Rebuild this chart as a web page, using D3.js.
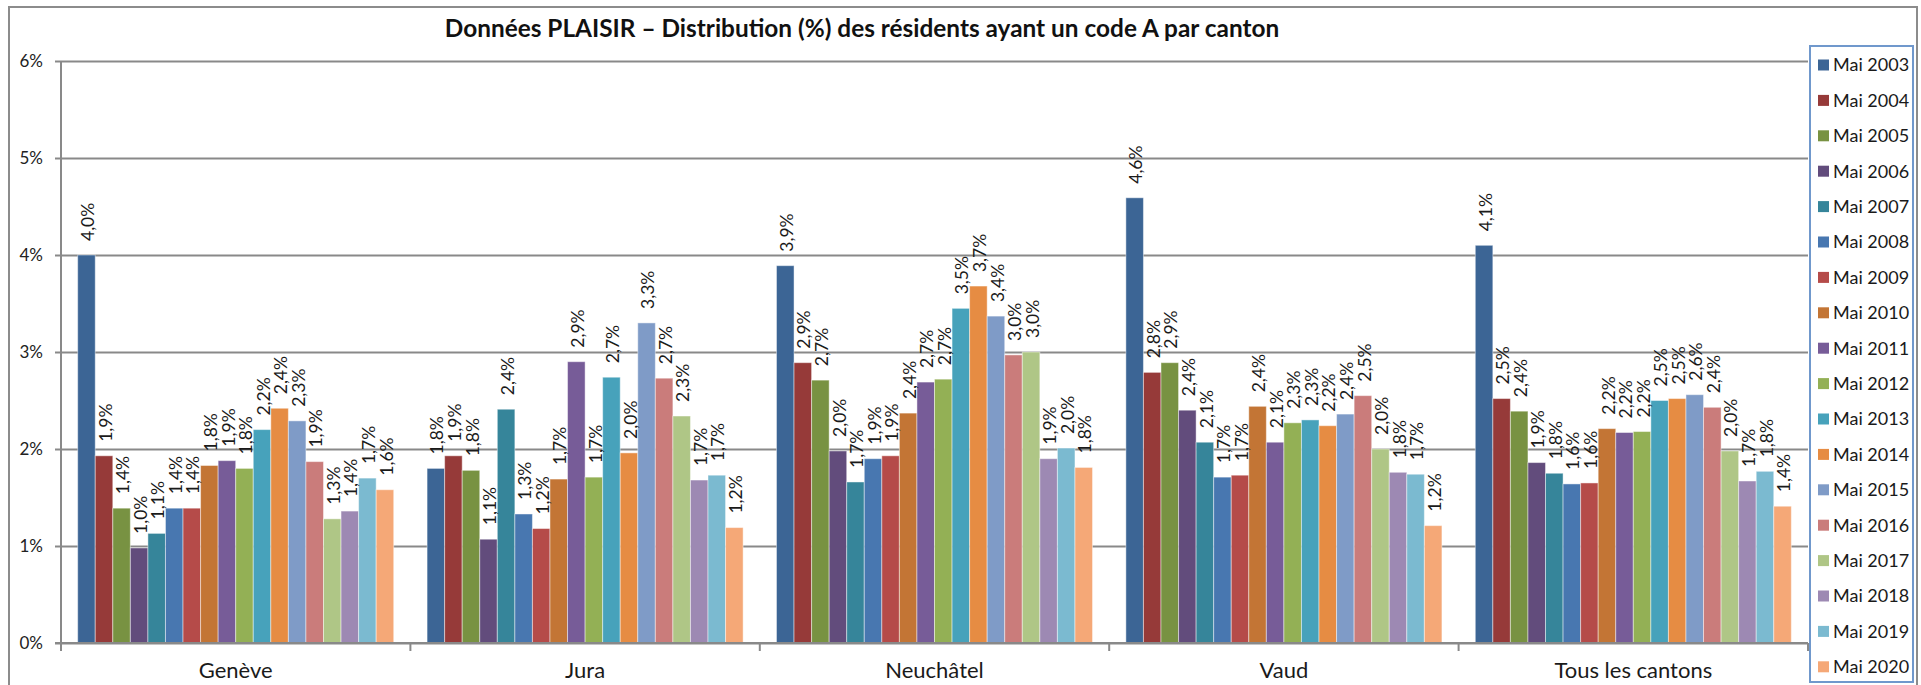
<!DOCTYPE html>
<html>
<head>
<meta charset="utf-8">
<script src="https://cdn.jsdelivr.net/npm/d3@7"></script>
<style>
  body { margin: 0; background: #fff; }
  svg { display: block; font-family: Lato, "Liberation Sans", sans-serif; }
</style>
</head>
<body>
<div id="chart"></div>
<script>
// categories (x) and series (one bar per year)
const cantons = ["Genève", "Jura", "Neuchâtel", "Vaud", "Tous les cantons"];
const years = ["Mai 2003", "Mai 2004", "Mai 2005", "Mai 2006", "Mai 2007", "Mai 2008",
  "Mai 2009", "Mai 2010", "Mai 2011", "Mai 2012", "Mai 2013", "Mai 2014",
  "Mai 2015", "Mai 2016", "Mai 2017", "Mai 2018", "Mai 2019", "Mai 2020"];

// values in %, one array per canton, in the order of years
const geneve    = [4.00, 1.93, 1.39, 0.98, 1.13, 1.39, 1.39, 1.83, 1.88, 1.80, 2.20, 2.42, 2.29, 1.87, 1.28, 1.36, 1.70, 1.58];
const jura      = [1.80, 1.93, 1.78, 1.07, 2.41, 1.33, 1.18, 1.69, 2.90, 1.71, 2.74, 1.96, 3.30, 2.73, 2.34, 1.68, 1.73, 1.19];
const neuchatel = [3.89, 2.89, 2.71, 1.98, 1.66, 1.90, 1.93, 2.37, 2.69, 2.72, 3.45, 3.68, 3.37, 2.97, 3.00, 1.90, 2.01, 1.81];
const vaud      = [4.59, 2.79, 2.89, 2.40, 2.07, 1.71, 1.73, 2.44, 2.07, 2.27, 2.30, 2.24, 2.36, 2.55, 2.00, 1.76, 1.74, 1.21];
const tous      = [4.10, 2.52, 2.39, 1.86, 1.75, 1.64, 1.65, 2.21, 2.17, 2.18, 2.50, 2.52, 2.56, 2.43, 1.98, 1.67, 1.77, 1.41];

const yTicks = [0, 1, 2, 3, 4, 5, 6];

const colors = ["#3c6595", "#963a39", "#789242", "#624c7c", "#36859a", "#4877b0",
  "#b54b49", "#c37535", "#775c98", "#93b055", "#47a2bb", "#e68c43",
  "#7f9bc7", "#ca7c7b", "#afc686", "#9d89b3", "#7bbad0", "#f5a877"];

const title = "Données PLAISIR – Distribution (%) des résidents ayant un code A par canton";

// build rows from the arrays above
const values = [geneve, jura, neuchatel, vaud, tous];
const rows = cantons.map((c, i) => ({
  canton: c,
  bars: years.map((y, j) => ({ year: y, value: values[i][j] }))
}));

let w = 1921;
let h = 685;
const plot = { left: 61, right: 1808, top: 61, bottom: 643 };
const gridColor = "#898989";

var svg = d3.select("#chart").append("svg").attr("width", w).attr("height", h);

// outer chart border
svg.append("rect")
  .attr("x", 9).attr("y", 7)
  .attr("width", 1908).attr("height", 700)
  .attr("fill", "none")
  .attr("stroke", "#8c8c8c")
  .attr("stroke-width", 2);

// scales
const x0 = d3.scaleBand().domain(cantons).range([plot.left, plot.right]);
const x1 = d3.scaleBand().domain(years).range([0, x0.bandwidth()])
  .paddingInner(0).paddingOuter(0.95);
const color = d3.scaleOrdinal().domain(years).range(colors);
const y = d3.scaleLinear().domain([0, 6]).range([plot.bottom, plot.top]);

// gridlines
svg.append("g")
  .attr("transform", "translate(" + plot.left + ",0)")
  .call(d3.axisLeft(y).tickValues(yTicks).tickSize(-(plot.right - plot.left)).tickFormat(""))
  .call(g => g.select(".domain").remove())
  .call(g => g.selectAll("line").attr("stroke", gridColor).attr("stroke-width", 2));

// y axis with labels
svg.append("g")
  .attr("transform", "translate(" + plot.left + ",0)")
  .call(d3.axisLeft(y).tickValues(yTicks).tickSize(6).tickPadding(12)
    .tickFormat(d => d + "%"))
  .call(g => g.select(".domain").attr("stroke", gridColor).attr("stroke-width", 2)
    .attr("d", "M0," + plot.top + "V" + plot.bottom))
  .call(g => g.selectAll("line").attr("stroke", gridColor).attr("stroke-width", 2))
  .call(g => g.selectAll("text").attr("font-size", 17).attr("fill", "#222")
    .attr("font-family", "Lato, sans-serif"));

// bars
const groups = svg.selectAll("g.canton")
  .data(rows)
  .enter()
  .append("g")
  .attr("class", "canton")
  .attr("transform", d => "translate(" + x0(d.canton) + ",0)");

groups.selectAll("rect")
  .data(d => d.bars)
  .enter()
  .append("rect")
  .attr("x", d => x1(d.year))
  .attr("y", d => y(d.value))
  .attr("width", x1.bandwidth())
  .attr("height", d => y(0) - y(d.value))
  .attr("fill", d => color(d.year))
  .attr("stroke", "rgba(255,255,255,0.45)")
  .attr("stroke-width", 1);

// rotated value labels
groups.selectAll("text.lbl")
  .data(d => d.bars)
  .enter()
  .append("text")
  .attr("class", "lbl")
  .attr("transform", d => {
    const cx = x1(d.year) + x1.bandwidth() / 2 + 1.5;
    const cy = y(d.value) - 14;
    return "translate(" + cx + "," + cy + ") rotate(-90)";
  })
  .attr("dy", "0.35em")
  .attr("font-size", 17.5)
  .attr("fill", "#1a1a1a")
  .text(d => d.value.toFixed(1).replace(".", ",") + "%");

// x axis line and category boundary ticks
svg.append("line")
  .attr("x1", plot.left - 6).attr("x2", plot.right)
  .attr("y1", plot.bottom).attr("y2", plot.bottom)
  .attr("stroke", gridColor).attr("stroke-width", 2);

const bounds = cantons.map(c => x0(c)).concat([plot.right]);
svg.selectAll("line.ctick")
  .data(bounds)
  .enter()
  .append("line")
  .attr("class", "ctick")
  .attr("x1", d => d).attr("x2", d => d)
  .attr("y1", plot.bottom).attr("y2", plot.bottom + 8)
  .attr("stroke", gridColor).attr("stroke-width", 2);

// category labels
svg.selectAll("text.cat")
  .data(cantons)
  .enter()
  .append("text")
  .attr("class", "cat")
  .attr("x", d => x0(d) + x0.bandwidth() / 2)
  .attr("y", 678)
  .attr("text-anchor", "middle")
  .attr("font-size", 22)
  .attr("fill", "#1a1a1a")
  .text(d => d);

// title, sized to the width it has in the original
const t = svg.append("text")
  .attr("x", 862)
  .attr("y", 37)
  .attr("text-anchor", "middle")
  .attr("font-weight", "bold")
  .attr("font-size", 20)
  .attr("fill", "#111")
  .text(title);
const tw = t.node().getComputedTextLength();
t.attr("font-size", 20 * 835 / tw);

// legend
const legend = svg.append("g");
legend.append("rect")
  .attr("x", 1810).attr("y", 46)
  .attr("width", 103).attr("height", 636)
  .attr("fill", "#fff")
  .attr("stroke", "#7098cc")
  .attr("stroke-width", 2);

const item = legend.selectAll("g.item")
  .data(years)
  .enter()
  .append("g")
  .attr("class", "item")
  .attr("transform", (d, i) => "translate(1818," + (65 + i * 35.4) + ")");

item.append("rect")
  .attr("x", 0).attr("y", -5.5)
  .attr("width", 11).attr("height", 11)
  .attr("fill", d => color(d));

item.append("text")
  .attr("x", 15)
  .attr("dy", "0.36em")
  .attr("font-size", 18)
  .attr("fill", "#1a1a1a")
  .text(d => d);
</script>
</body>
</html>
